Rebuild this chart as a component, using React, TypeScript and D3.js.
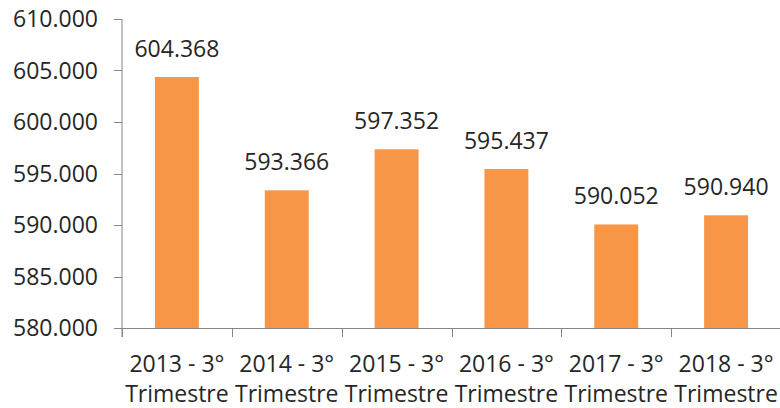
import React, { useRef, useEffect } from "react";
import * as d3 from "d3";

const years = ["2013", "2014", "2015", "2016", "2017", "2018"];
const categoryLabels = years.map((y) => [`${y} - 3°`, "Trimestre"]);
const values = [604368, 593366, 597352, 595437, 590052, 590940];
const yTicks = [580000, 585000, 590000, 595000, 600000, 605000, 610000];

const width = 780;
const height = 408;
const fontFamily = "'Open Sans', sans-serif";
const textColor = "#262626";
const axisColor = "#868686";
const barColor = "#F79646";

// 604368 -> "604.368"
const fmt = (v: number) => `${Math.floor(v / 1000)}.${String(v % 1000).padStart(3, "0")}`;

export default function App() {
  const svgRef = useRef<SVGSVGElement>(null);

  useEffect(() => {
    const svg = d3.select(svgRef.current);
    svg.selectAll("*").remove();

    const left = 122;
    const right = 781;
    const top = 19;
    const bottom = 328;

    const x = d3
      .scaleBand()
      .domain(years)
      .range([left, right])
      .paddingInner(0.6)
      .paddingOuter(0.3);
    const y = d3.scaleLinear().domain([580000, 610000]).range([bottom, top]);

    // bars
    svg
      .append("g")
      .selectAll("rect")
      .data(values)
      .join("rect")
      .attr("x", (d, i) => x(years[i])!)
      .attr("width", x.bandwidth())
      .attr("y", (d) => y(d))
      .attr("height", (d) => bottom - y(d))
      .attr("fill", barColor);

    // value labels
    svg
      .append("g")
      .selectAll("text")
      .data(values)
      .join("text")
      .attr("x", (d, i) => x(years[i])! + x.bandwidth() / 2)
      .attr("y", (d) => y(d) - 20)
      .attr("text-anchor", "middle")
      .attr("font-family", fontFamily)
      .attr("font-size", 23)
      .attr("fill", textColor)
      .text((d) => fmt(d));

    // y axis
    const yAxis = svg.append("g");
    yAxis
      .append("line")
      .attr("x1", left)
      .attr("x2", left)
      .attr("y1", top)
      .attr("y2", bottom + 9)
      .attr("stroke", axisColor);
    yAxis
      .selectAll(".tick")
      .data(yTicks)
      .join("line")
      .attr("x1", left - 8)
      .attr("x2", left)
      .attr("y1", (d) => Math.round(y(d)) + 0.5)
      .attr("y2", (d) => Math.round(y(d)) + 0.5)
      .attr("stroke", axisColor);
    yAxis
      .selectAll("text")
      .data(yTicks)
      .join("text")
      .attr("x", 98)
      .attr("y", (d) => y(d) + 8)
      .attr("text-anchor", "end")
      .attr("font-family", fontFamily)
      .attr("font-size", 23)
      .attr("fill", textColor)
      .text((d) => fmt(d));

    // x axis
    const xAxis = svg.append("g");
    xAxis
      .append("line")
      .attr("x1", left)
      .attr("x2", right)
      .attr("y1", bottom + 0.5)
      .attr("y2", bottom + 0.5)
      .attr("stroke", axisColor);
    xAxis
      .selectAll("line.tick")
      .data(years)
      .join("line")
      .attr("class", "tick")
      .attr("x1", (d) => Math.round(x(d)! - x.step() * 0.3) + 0.5)
      .attr("x2", (d) => Math.round(x(d)! - x.step() * 0.3) + 0.5)
      .attr("y1", bottom)
      .attr("y2", bottom + 9)
      .attr("stroke", axisColor);
    const labels = xAxis
      .selectAll("text")
      .data(years)
      .join("text")
      .attr("text-anchor", "middle")
      .attr("font-family", fontFamily)
      .attr("font-size", 23)
      .attr("fill", textColor);
    labels
      .selectAll("tspan")
      .data((d, i) => categoryLabels[i].map((t) => ({ t, cx: x(d)! + x.bandwidth() / 2 })))
      .join("tspan")
      .attr("x", (d) => d.cx)
      .attr("y", (d, j) => 372 + j * 30)
      .text((d) => d.t);
  }, []);

  return (
    <svg
      ref={svgRef}
      width={width}
      height={height}
      style={{ position: "absolute", left: 0, top: 0, background: "#fff" }}
    />
  );
}
